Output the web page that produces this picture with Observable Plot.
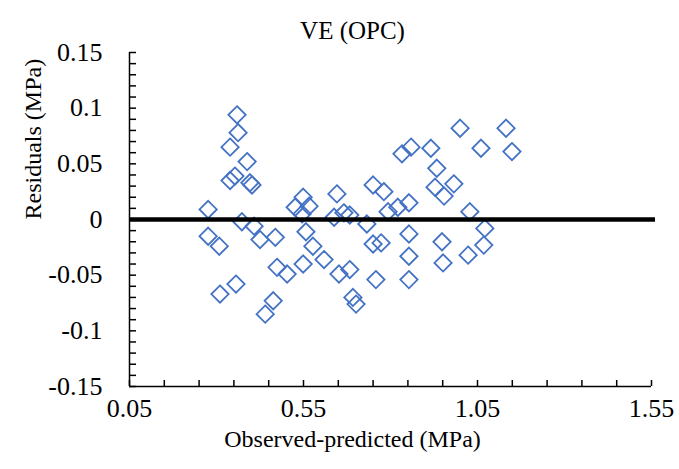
<!DOCTYPE html>
<html><head><meta charset="utf-8">
<script src="https://cdn.jsdelivr.net/npm/d3@7"></script>
<script src="https://cdn.jsdelivr.net/npm/@observablehq/plot@0.6"></script>
<style>body{margin:0;background:#fff;} #chart svg{display:block;} #chart svg text{font-family:"Liberation Serif","Times New Roman",serif !important;}</style>
</head><body><div id="chart"></div>
<script>
// Observed-predicted (MPa) values of each point
const observed = [0.276,0.276,0.308,0.310,0.339,0.359,0.362,0.339,0.353,0.356,0.373,0.388,0.396,0.402,0.408,0.425,0.440,0.463,0.469,0.474,0.503,0.526,0.549,0.549,0.546,0.557,0.566,0.577,0.609,0.638,0.646,0.652,0.666,0.683,0.683,0.692,0.701,0.732,0.750,0.750,0.758,0.773,0.781,0.793,0.821,0.833,0.859,0.853,0.853,0.853,0.853,0.916,0.933,0.928,0.948,0.951,0.954,0.982,1.000,1.028,1.023,1.060,1.071,1.068,1.132,1.149];
// Residuals (MPa) of each point
const residuals = [0.009,-0.015,-0.024,-0.067,0.065,0.094,0.078,0.035,0.039,-0.058,-0.002,0.052,0.033,0.031,-0.006,-0.018,-0.085,-0.073,-0.016,-0.043,-0.049,0.011,0.020,-0.040,0.005,-0.011,0.012,-0.024,-0.036,0.002,0.023,-0.049,0.006,0.004,-0.045,-0.070,-0.076,-0.004,0.031,-0.022,-0.054,-0.021,0.025,0.007,0.011,0.059,0.065,0.015,-0.013,-0.033,-0.054,0.064,0.046,0.029,-0.020,-0.039,0.021,0.032,0.082,0.007,-0.032,0.064,-0.008,-0.023,0.082,0.061];

const titleText = "VE (OPC)";
const xLabel = "Observed-predicted (MPa)";
const yLabel = "Residuals (MPa)";
const xTicks = [0.05, 0.55, 1.05, 1.55];
const xTickLabels = ["0.05", "0.55", "1.05", "1.55"];
const xMinor = [0.05,0.15,0.25,0.35,0.45,0.55,0.65,0.75,0.85,0.95,1.05,1.15,1.25,1.35,1.45,1.55];
const yTicks = [-0.15, -0.1, -0.05, 0, 0.05, 0.1, 0.15];
const yTickLabels = ["-0.15", "-0.1", "-0.05", "0", "0.05", "0.1", "0.15"];
const yMinor = [-0.15,-0.14,-0.13,-0.12,-0.11,-0.1,-0.09,-0.08,-0.07,-0.06,-0.05,-0.04,-0.03,-0.02,-0.01,0,0.01,0.02,0.03,0.04,0.05,0.06,0.07,0.08,0.09,0.1,0.11,0.12,0.13,0.14,0.15];
const zeroLine = [0];

const data = observed.map((x, i) => ({x, y: residuals[i]}));

const W = 679, H = 469, mL = 129, mR = 28, mT = 52, mB = 83;
const fw = W - mL - mR, fh = H - mT - mB;
const font = "Liberation Serif";

const chart = Plot.plot({
  width: W, height: H,
  marginLeft: mL, marginRight: mR, marginTop: mT, marginBottom: mB,
  style: {fontFamily: font, fontSize: "26px", color: "#000", background: "#fff", overflow: "visible"},
  x: {domain: [0.05, 1.55]},
  y: {domain: [-0.15, 0.15]},
  marks: [
    Plot.ruleY(yMinor, {y: d => d, stroke: "#000", strokeWidth: 1.5, insetRight: fw - 7}),
    Plot.ruleX(xMinor, {x: d => d, stroke: "#000", strokeWidth: 1.5, insetTop: fh - 6}),
    Plot.ruleX([0.05], {stroke: "#000", strokeWidth: 1.5}),
    Plot.ruleY([-0.15], {stroke: "#000", strokeWidth: 1.5}),
    Plot.axisY(yTicks, {tickSize: 0, tickPadding: 27, fontSize: 26, fontFamily: font, label: null,
      tickFormat: d => yTickLabels[yTicks.indexOf(d)]}),
    Plot.axisX(xTicks, {tickSize: 0, tickPadding: 12, fontSize: 26, fontFamily: font, label: null,
      tickFormat: d => xTickLabels[xTicks.indexOf(d)]}),
    Plot.dot(data, {x: "x", y: "y", symbol: "diamond2", r: 7.8, stroke: "#4472C4", strokeWidth: 1.8, fill: "none"}),
    Plot.ruleY(zeroLine, {stroke: "#000", strokeWidth: 4.5, insetRight: -4}),
    Plot.text([titleText], {frameAnchor: "top", dx: -38, dy: -31, fontSize: 25, fontFamily: font, text: d => d}),
    Plot.text([xLabel], {frameAnchor: "bottom", dx: -38, dy: 60, fontSize: 24, fontFamily: font, text: d => d}),
    Plot.text([yLabel], {frameAnchor: "left", dx: -96, rotate: -90, fontSize: 24, fontFamily: font, text: d => d})
  ]
});
document.getElementById("chart").append(chart);
</script>
</body></html>
